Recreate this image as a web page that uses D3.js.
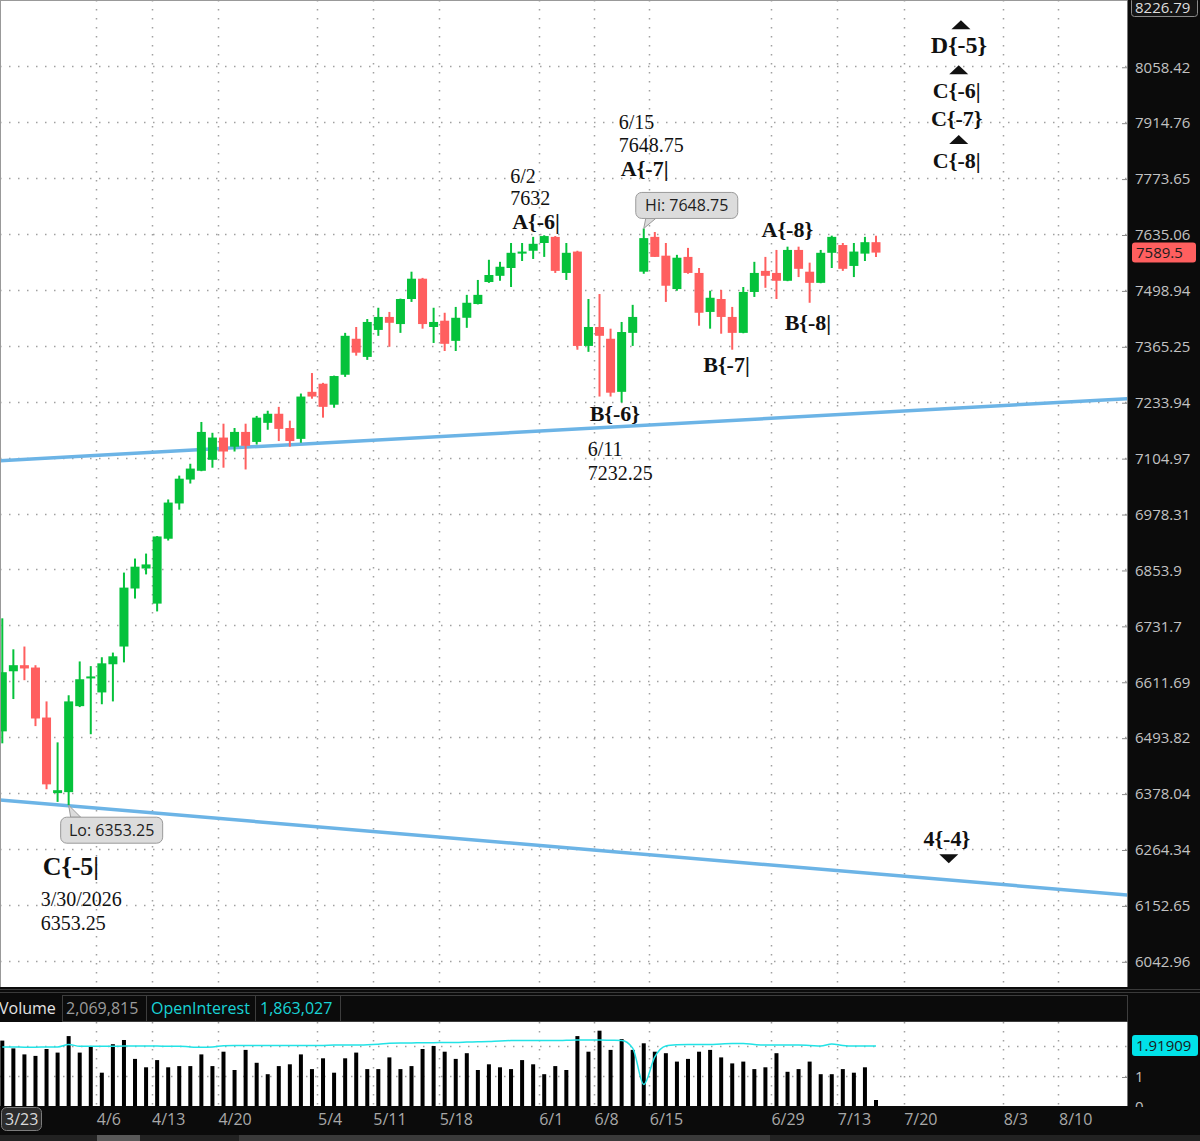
<!DOCTYPE html>
<html>
<head>
<meta charset="utf-8">
<script src="https://cdn.jsdelivr.net/npm/d3@7"></script>
<style>
  body { margin: 0; background: #0b0b0b; }
  svg { display: block; }
</style>
</head>
<body>
<div id="chart"></div>
<script>
// daily bars from 3/23 on, index 0..79 (last one is the live bar)
const opens = [6506, 6633, 6646, 6641, 6535, 6378, 6380, 6559, 6618, 6588,
  6648, 6686, 6812, 6856, 6779, 6922, 7001, 7055, 7075, 7100,
  7151, 7130, 7164, 7141, 7185, 7206, 7173, 7148, 7257, 7276,
  7227, 7297, 7382, 7339, 7403, 7434, 7417, 7477, 7526, 7410,
  7425, 7377, 7432, 7465, 7518, 7533, 7552, 7587, 7594, 7613,
  7628, 7540, 7592, 7365, 7410, 7382, 7257, 7396, 7543, 7628,
  7582, 7501, 7579, 7540, 7446, 7477, 7434, 7396, 7494, 7545,
  7540, 7521, 7596, 7543, 7516, 7589, 7608, 7557, 7587, 7615]
const highs = [6747, 6680, 6686, 6646, 6569, 6483, 6582, 6654, 6644, 6663,
  6673, 6847, 6878, 6889, 6928, 7010, 7064, 7091, 7187, 7162,
  7183, 7173, 7183, 7201, 7213, 7222, 7190, 7253, 7301, 7278,
  7295, 7396, 7410, 7429, 7456, 7446, 7478, 7543, 7528, 7456,
  7444, 7458, 7487, 7523, 7572, 7567, 7613, 7613, 7628, 7632,
  7630, 7613, 7594, 7477, 7489, 7406, 7422, 7463, 7648.75, 7640,
  7613, 7584, 7601, 7552, 7497, 7499, 7458, 7506, 7567, 7579,
  7596, 7604, 7604, 7565, 7596, 7631, 7613, 7613, 7628, 7631]
const lows = [6481, 6574, 6614, 6517, 6386, 6360, 6353.25, 6557, 6500, 6563,
  6569, 6652, 6790, 6843, 6762, 6918, 6987, 7046, 7074, 7082,
  7082, 7119, 7078, 7135, 7169, 7143, 7130, 7139, 7241, 7197,
  7220, 7292, 7342, 7332, 7389, 7363, 7396, 7470, 7406, 7372,
  7353, 7353, 7408, 7464, 7516, 7521, 7506, 7569, 7574, 7579,
  7540, 7523, 7356, 7351, 7246, 7246, 7232.25, 7365, 7538, 7579,
  7470, 7497, 7538, 7413, 7406, 7394, 7356, 7395, 7482, 7504,
  7477, 7520, 7530, 7468, 7515, 7552, 7545, 7530, 7569, 7579]
const closes = [6631, 6646, 6639, 6533, 6396, 6384, 6569, 6616, 6622, 6650,
  6665, 6814, 6860, 6865, 6927, 7003, 7057, 7080, 7164, 7151,
  7119, 7164, 7132, 7197, 7206, 7171, 7143, 7246, 7246, 7222,
  7294, 7389, 7349, 7422, 7434, 7420, 7477, 7526, 7417, 7422,
  7370, 7432, 7468, 7487, 7535, 7555, 7589, 7592, 7611, 7630,
  7545, 7589, 7365, 7410, 7389, 7255, 7398, 7434, 7625, 7579,
  7509, 7577, 7540, 7444, 7480, 7434, 7396, 7494, 7540, 7533,
  7521, 7596, 7550, 7516, 7589, 7628, 7550, 7592, 7615, 7589.5]

// volume and open interest, millions of contracts
const volumes = [2.18, 1.92, 1.72, 1.67, 1.90, 1.78, 2.33, 1.78, 1.98, 1.11,
  2.06, 2.20, 1.57, 1.29, 1.53, 1.29, 1.33, 1.33, 1.72, 1.33,
  1.81, 1.20, 1.87, 1.44, 1.06, 1.33, 1.39, 1.72, 1.23, 1.59,
  1.11, 1.59, 1.78, 1.23, 1.23, 1.62, 1.23, 1.33, 1.90, 2.00,
  1.81, 1.57, 1.76, 1.20, 1.39, 1.29, 1.23, 1.53, 1.39, 1.06,
  1.33, 1.20, 2.33, 1.81, 2.51, 1.87, 2.23, 1.87, 2.09, 1.81,
  1.76, 1.48, 1.57, 1.81, 1.87, 1.62, 1.42, 1.48, 1.23, 1.29,
  1.76, 1.14, 1.23, 1.48, 1.06, 1.06, 1.23, 1.11, 1.29, 0.20]
const openInterest = [1.97, 1.97, 1.96, 1.96, 1.97, 1.97, 2.05, 1.99, 1.99, 1.99,
  1.99, 2.00, 2.00, 2.00, 2.00, 1.99, 1.99, 1.97, 1.96, 1.97,
  2.01, 2.02, 2.02, 2.02, 2.02, 2.02, 2.02, 2.02, 2.02, 2.02,
  2.03, 2.03, 2.03, 2.04, 2.06, 2.09, 2.10, 2.10, 2.11, 2.11,
  2.12, 2.12, 2.13, 2.14, 2.15, 2.17, 2.18, 2.18, 2.18, 2.18,
  2.18, 2.19, 2.20, 2.20, 2.20, 2.19, 2.18, 1.93, 0.72, 1.64,
  2.00, 2.04, 2.05, 2.05, 2.05, 2.07, 2.08, 2.08, 2.05, 2.03,
  2.03, 2.03, 2.03, 2.02, 2.00, 2.07, 2.02, 2.00, 2.00, 2.00]

const priceTicks = [6042.96, 6152.65, 6264.34, 6378.04, 6493.82, 6611.69, 6731.7, 6853.9,
  6978.31, 7104.97, 7233.94, 7365.25, 7498.94, 7635.06, 7773.65, 7914.76, 8058.42]
const priceTop = 8226.79
const lastPrice = 7589.5
const volTicks = [0, 1]
const volGrid = [1, 2]
const oiReadout = '1.91909'
const volumeReadout = '2,069,815'
const oiHeader = '1,863,027'

const dateLabels = ['4/6', '4/13', '4/20', '5/4', '5/11', '5/18', '6/1', '6/8', '6/15', '6/29', '7/13', '7/20', '8/3', '8/10']
const dateBars = [8, 13, 19, 28, 33, 39, 48, 53, 58, 69, 75, 81, 90, 95]
const firstDate = '3/23'

// channel lines as [bar, price] pairs
const upperChannel = [[-0.21, 7098], [101.8, 7241]]
const lowerChannel = [[-0.21, 6364], [101.8, 6172]]

// wave pivots
const pivotLabels = ['C{-5|', 'A{-6|', 'B{-6}', 'A{-7|', 'B{-7|', 'A{-8}', 'B{-8|']
const pivotBars = [6, 49, 56, 58, 66, 71, 73]
const pivotDates = ['3/30/2026', '6/2', '6/11', '6/15', '', '', '']
const pivotShowPrice = [true, true, true, true, false, false, false]

// projected levels on the right
const projLabels = ['D{-5}', 'C{-6|', 'C{-7}', 'C{-8|', '4{-4}']
const projBars = [86.5, 86.3, 86.3, 86.3, 85.4]
const projPrices = [8092, 7976, 7905, 7799, 6270]
const projMarks = ['up', 'up', '', 'up', 'down']

const W = 1200
const H = 1141
const plotRight = 1127
const mainBottom = 987
const volTop = 1022
const volBottom = 1106
const green = '#05c23b'
const red = '#ff5f5f'
const serif = "'Liberation Serif', 'Times New Roman', serif"
const sans = "'Open Sans', sans-serif"

const x = d3.scaleLinear().domain([0, 79]).range([2.3, 876])
const y = d3.scaleLog().domain([6000, priceTop]).range([983, 2])
const yv = d3.scaleLinear().domain([0, 2.733]).range([volBottom, 1024])

const svg = d3.select('#chart').append('svg')
  .attr('width', W)
  .attr('height', H)
  .style('font-family', sans)

svg.append('rect').attr('width', W).attr('height', H).attr('fill', '#0b0b0b')
svg.append('rect').attr('width', plotRight).attr('height', mainBottom).attr('fill', '#fff')
svg.append('rect').attr('y', volTop).attr('width', plotRight).attr('height', volBottom - volTop).attr('fill', '#fff')

const defs = svg.append('defs')
defs.append('clipPath').attr('id', 'clipMain')
  .append('rect').attr('width', plotRight).attr('height', mainBottom)
defs.append('clipPath').attr('id', 'clipVol')
  .append('rect').attr('y', volTop).attr('width', plotRight).attr('height', volBottom - volTop)
defs.append('clipPath').attr('id', 'clipVolAxis')
  .append('rect').attr('y', volTop).attr('width', W).attr('height', volBottom - volTop + 1)

const dotted = sel => sel
  .attr('stroke', '#a0a0a0')
  .attr('stroke-width', 1.5)
  .attr('stroke-dasharray', '1.5 7.5')

// ---- main panel
const gMain = svg.append('g').attr('clip-path', 'url(#clipMain)')

gMain.selectAll('line.hgrid').data(priceTicks).join('line')
  .attr('class', 'hgrid')
  .attr('x1', 0).attr('x2', plotRight)
  .attr('y1', d => Math.round(y(d)) + 0.5)
  .attr('y2', d => Math.round(y(d)) + 0.5)
  .call(dotted)

gMain.selectAll('line.vgrid').data(dateBars).join('line')
  .attr('class', 'vgrid')
  .attr('x1', d => Math.round(x(d + 0.5)) + 0.5)
  .attr('x2', d => Math.round(x(d + 0.5)) + 0.5)
  .attr('y1', 0).attr('y2', mainBottom)
  .call(dotted)

gMain.selectAll('line.channel').data([upperChannel, lowerChannel]).join('line')
  .attr('class', 'channel')
  .attr('x1', d => x(d[0][0])).attr('y1', d => y(d[0][1]))
  .attr('x2', d => x(d[1][0])).attr('y2', d => y(d[1][1]))
  .attr('stroke', '#6cb4e6')
  .attr('stroke-width', 3.5)

const bars = d3.range(opens.length)
const candleColor = i => closes[i] >= opens[i] ? green : red

gMain.selectAll('line.wick').data(bars).join('line')
  .attr('class', 'wick')
  .attr('x1', i => x(i)).attr('x2', i => x(i))
  .attr('y1', i => y(highs[i])).attr('y2', i => y(lows[i]))
  .attr('stroke', candleColor)
  .attr('stroke-width', 2)

gMain.selectAll('rect.body').data(bars).join('rect')
  .attr('class', 'body')
  .attr('x', i => x(i) - 4.5)
  .attr('width', 9)
  .attr('y', i => y(Math.max(opens[i], closes[i])))
  .attr('height', i => Math.max(2, Math.abs(y(opens[i]) - y(closes[i]))))
  .attr('fill', candleColor)

// borders
svg.append('line').attr('x1', 0.5).attr('x2', 0.5).attr('y1', 0).attr('y2', mainBottom).attr('stroke', '#999')
svg.append('line').attr('x1', 0).attr('x2', plotRight).attr('y1', 0.5).attr('y2', 0.5).attr('stroke', '#999')
svg.append('line').attr('x1', plotRight + 0.5).attr('x2', plotRight + 0.5).attr('y1', 0).attr('y2', mainBottom).attr('stroke', '#777')

// ---- price axis
const yAxis = d3.axisRight(y)
  .tickValues(priceTicks)
  .tickFormat(d => String(d))
  .tickSizeInner(-5)
  .tickSizeOuter(0)
  .tickPadding(8)

const gy = svg.append('g')
  .attr('transform', `translate(${plotRight},1)`)
  .call(yAxis)
gy.select('.domain').remove()
gy.selectAll('.tick line').attr('stroke', '#8a8a8a')
gy.selectAll('.tick text')
  .attr('fill', '#c2c2c2')
  .style('font-family', sans)
  .style('font-size', '15px')

// top value box
svg.append('rect')
  .attr('x', plotRight + 4.5).attr('y', -2.5)
  .attr('width', 66).attr('height', 19).attr('rx', 3)
  .attr('fill', '#141414').attr('stroke', '#8a8a8a')
svg.append('text')
  .attr('x', plotRight + 8).attr('y', 13)
  .attr('fill', '#dedede').style('font-size', '15px')
  .text(priceTop)

// last price box
svg.append('rect')
  .attr('x', plotRight + 5).attr('y', y(lastPrice) - 10)
  .attr('width', 64).attr('height', 20).attr('rx', 3)
  .attr('fill', red)
svg.append('text')
  .attr('x', plotRight + 9).attr('y', y(lastPrice) + 5.5)
  .attr('fill', '#1c1c1c').style('font-size', '15px')
  .text(lastPrice)

// ---- annotations
const gAnn = svg.append('g').style('font-family', serif).attr('fill', '#111')

// layout of each pivot text block relative to its bar extreme: [dx, label dy, date dy, price dy]
const pivotLayout = [
  [-26, 70, 101, 125],
  [-32, -6, -52, -30],
  [-32, 19, 54, 78],
  [-23, -52, -99, -76],
  [-29, 22, 0, 0],
  [-26, -10, 0, 0],
  [-25, 27, 0, 0]
]

pivotLabels.forEach((label, k) => {
  const bar = pivotBars[k]
  const isHigh = label.startsWith('A')
  const price = isHigh ? highs[bar] : lows[bar]
  const px = x(bar)
  const py = y(price)
  const [dx, dyLabel, dyDate, dyPrice] = pivotLayout[k]
  gAnn.append('text')
    .attr('x', px + dx).attr('y', py + dyLabel)
    .style('font-weight', 'bold')
    .style('font-size', k === 0 ? '26px' : '22px')
    .text(label)
  if (pivotDates[k]) {
    gAnn.append('text')
      .attr('x', px + dx - 2).attr('y', py + dyDate)
      .style('font-size', '20px')
      .text(pivotDates[k])
  }
  if (pivotShowPrice[k]) {
    gAnn.append('text')
      .attr('x', px + dx - 2).attr('y', py + dyPrice)
      .style('font-size', '20px')
      .text(d3.format('.2~f')(price))
  }
})

projLabels.forEach((label, k) => {
  const px = x(projBars[k])
  const py = y(projPrices[k])
  gAnn.append('text')
    .attr('x', px).attr('y', py)
    .attr('text-anchor', 'middle')
    .style('font-weight', 'bold')
    .style('font-size', k === 0 ? '24px' : '22px')
    .text(label)
  if (projMarks[k] === 'up') {
    gAnn.append('path')
      .attr('d', `M${px - 9.5},${py - 24}L${px + 9.5},${py - 24}L${px},${py - 33}Z`)
      .attr('transform', 'translate(2,0)')
      .attr('fill', '#111')
  } else if (projMarks[k] === 'down') {
    gAnn.append('path')
      .attr('d', `M${px - 9.5},${py + 8}L${px + 9.5},${py + 8}L${px},${py + 17}Z`)
      .attr('transform', 'translate(2,0)')
      .attr('fill', '#111')
  }
})

// hi / lo callouts
function callout (bar, price, text, below) {
  const tx = x(bar)
  const ty = y(price)
  const bx = tx - 8
  const by = below ? ty + 12 : ty - 36
  const edge = below ? by : by + 26
  svg.append('path')
    .attr('d', `M${tx},${ty}L${tx + 2},${edge}L${tx + 12},${edge}Z`)
    .attr('fill', '#dcdcdc').attr('stroke', '#9a9a9a')
  svg.append('rect')
    .attr('x', bx).attr('y', by)
    .attr('width', 102).attr('height', 26).attr('rx', 6)
    .attr('fill', '#dcdcdc').attr('stroke', '#9a9a9a')
  svg.append('rect')
    .attr('x', tx + 2.5).attr('y', below ? by + 1 : edge - 3)
    .attr('width', 9).attr('height', 2.5)
    .attr('fill', '#dcdcdc')
  svg.append('text')
    .attr('x', bx + 51).attr('y', by + 19)
    .attr('text-anchor', 'middle')
    .attr('fill', '#1e1e1e').style('font-size', '16px')
    .text(text)
}
callout(6, lows[6], 'Lo: ' + lows[6], true)
callout(58, highs[58], 'Hi: ' + highs[58], false)

// ---- volume header
svg.append('line').attr('x1', 0).attr('x2', W).attr('y1', 989.5).attr('y2', 989.5).attr('stroke', '#3a3a3a')
svg.append('line').attr('x1', 0).attr('x2', W).attr('y1', 992.5).attr('y2', 992.5).attr('stroke', '#3a3a3a')
const cells = [[62, 146], [146, 255], [255, 340], [340, plotRight]]
svg.selectAll('rect.cell').data(cells).join('rect')
  .attr('class', 'cell')
  .attr('x', d => d[0] + 0.5).attr('y', 995.5)
  .attr('width', d => d[1] - d[0]).attr('height', 26)
  .attr('fill', 'none').attr('stroke', '#3d3d3d')
const header = svg.append('g').style('font-size', '16px')
header.append('text').attr('x', -1).attr('y', 1014).attr('fill', '#e4e4e4').text('Volume')
header.append('text').attr('x', 66).attr('y', 1014).attr('fill', '#9c9c9c').text(volumeReadout)
header.append('text').attr('x', 151).attr('y', 1014).attr('fill', '#19d3d6').text('OpenInterest')
header.append('text').attr('x', 260).attr('y', 1014).attr('fill', '#19d3d6').text(oiHeader)

// ---- volume panel
const gVol = svg.append('g').attr('clip-path', 'url(#clipVol)')
gVol.selectAll('line.vhgrid').data(volGrid).join('line')
  .attr('class', 'vhgrid')
  .attr('x1', 0).attr('x2', plotRight)
  .attr('y1', d => Math.round(yv(d)) + 0.5).attr('y2', d => Math.round(yv(d)) + 0.5)
  .call(dotted)
gVol.selectAll('line.vvgrid').data(dateBars).join('line')
  .attr('class', 'vvgrid')
  .attr('x1', d => Math.round(x(d + 0.5)) + 0.5)
  .attr('x2', d => Math.round(x(d + 0.5)) + 0.5)
  .attr('y1', volTop).attr('y2', volBottom)
  .call(dotted)
gVol.selectAll('rect.vol').data(bars).join('rect')
  .attr('class', 'vol')
  .attr('x', i => x(i) - 2)
  .attr('width', 4)
  .attr('y', i => yv(volumes[i]))
  .attr('height', i => yv(0) - yv(volumes[i]))
  .attr('fill', '#000')
gVol.append('path')
  .datum(bars)
  .attr('d', d3.line().x(i => x(i)).y(i => yv(openInterest[i])).curve(d3.curveMonotoneX))
  .attr('fill', 'none')
  .attr('stroke', '#22e3e6')
  .attr('stroke-width', 1.5)
svg.append('line').attr('x1', plotRight + 0.5).attr('x2', plotRight + 0.5).attr('y1', volTop).attr('y2', volBottom).attr('stroke', '#777')

const volAxis = d3.axisRight(yv)
  .tickValues(volTicks)
  .tickFormat(d3.format('d'))
  .tickSizeInner(-5)
  .tickSizeOuter(0)
  .tickPadding(8)
const gyv = svg.append('g')
  .attr('clip-path', 'url(#clipVolAxis)')
  .append('g')
  .attr('transform', `translate(${plotRight},1)`)
  .call(volAxis)
gyv.select('.domain').remove()
gyv.selectAll('.tick line').attr('stroke', '#8a8a8a')
gyv.selectAll('.tick text').attr('fill', '#c2c2c2').style('font-family', sans).style('font-size', '15px')

const oiLast = openInterest[openInterest.length - 1]
svg.append('rect')
  .attr('x', plotRight + 5).attr('y', yv(oiLast) - 11)
  .attr('width', 66).attr('height', 21).attr('rx', 3)
  .attr('fill', '#00e2e8')
svg.append('text')
  .attr('x', plotRight + 9).attr('y', yv(oiLast) + 5)
  .attr('fill', '#1a1a1a').style('font-size', '15px')
  .text(oiReadout)

// ---- date axis
const xAxis = d3.axisBottom(x)
  .tickValues(dateBars.map(b => b + 0.5))
  .tickFormat((d, i) => dateLabels[i])
  .tickSize(0)
  .tickPadding(0)
const gx = svg.append('g')
  .attr('transform', `translate(0,${volBottom})`)
  .call(xAxis)
gx.select('.domain').remove()
gx.selectAll('.tick text')
  .attr('text-anchor', 'start')
  .attr('dy', null)
  .attr('y', 19)
  .attr('fill', '#a8a8a8')
  .style('font-family', sans)
  .style('font-size', '16px')

svg.append('rect')
  .attr('x', 1.5).attr('y', 1107.5)
  .attr('width', 40).attr('height', 23).attr('rx', 5)
  .attr('fill', '#2c2c2c').attr('stroke', '#7c7c7c')
svg.append('text')
  .attr('x', 5).attr('y', 1125)
  .attr('fill', '#dadada').style('font-size', '16px')
  .text(firstDate)

// scroll bar
svg.append('rect').attr('y', 1135).attr('width', W).attr('height', 6).attr('fill', '#222')
svg.append('rect').attr('x', 239).attr('y', 1135).attr('width', 531).attr('height', 6).attr('fill', '#3a3a3a')
svg.append('rect').attr('x', 97).attr('y', 1135).attr('width', 43).attr('height', 6).attr('fill', '#595959')
</script>
</body>
</html>
